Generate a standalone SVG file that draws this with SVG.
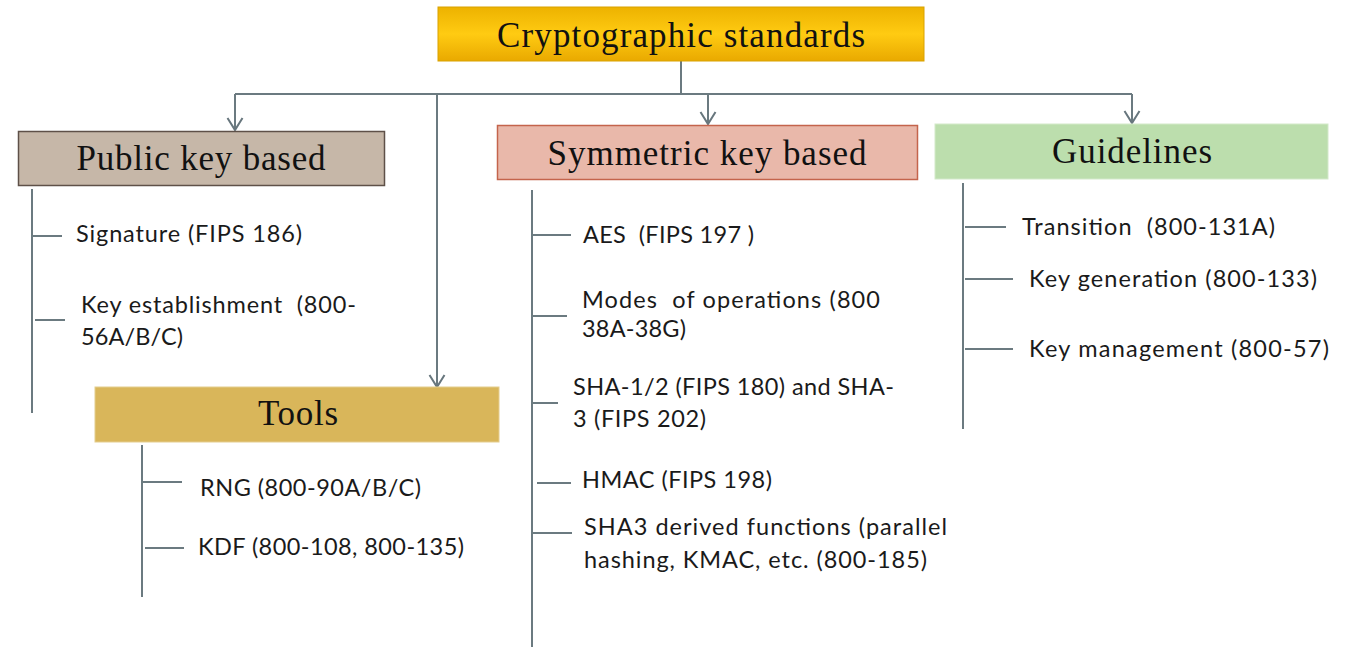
<svg xmlns="http://www.w3.org/2000/svg" width="1353" height="647" viewBox="0 0 1353 647">
<defs>
<linearGradient id="gold" x1="0" y1="0" x2="0" y2="1">
<stop offset="0" stop-color="#EDB200"/>
<stop offset="0.5" stop-color="#FFCB12"/>
<stop offset="1" stop-color="#E9A900"/>
</linearGradient>
<marker id="arr" markerUnits="userSpaceOnUse" markerWidth="16" markerHeight="18" viewBox="0 0 16 18" refX="13" refY="8.5" orient="auto">
<path d="M1,1 L13,8.5 L1,16" fill="none" stroke="#67767D" stroke-width="2"/>
</marker>
<style>
.ln{stroke:#6B7A80;stroke-width:2;fill:none}
.hd{font-family:"Liberation Serif","Times New Roman",serif;font-size:35px;fill:#111;text-anchor:middle}
.tx{font-family:Lato,"Liberation Sans",Arial,sans-serif;font-size:23.5px;fill:#1a1a1a;white-space:pre}
</style>
</defs>
<rect width="1353" height="647" fill="#ffffff"/>

<g id="connectors">
<path class="ln" d="M681,61 V94"/>
<path class="ln" d="M235,94 H1132"/>
<path class="ln" d="M235,94 V130" marker-end="url(#arr)"/>
<path class="ln" d="M437,94 V387" marker-end="url(#arr)"/>
<path class="ln" d="M708,94 V124" marker-end="url(#arr)"/>
<path class="ln" d="M1132,94 V123" marker-end="url(#arr)"/>
<path class="ln" d="M32,189 V413"/>
<path class="ln" d="M32,236 H62"/>
<path class="ln" d="M35,320 H65"/>
<path class="ln" d="M142,445 V597"/>
<path class="ln" d="M143,482 H182"/>
<path class="ln" d="M145,548 H184"/>
<path class="ln" d="M532,190 V647"/>
<path class="ln" d="M532,235 H571"/>
<path class="ln" d="M532,316 H567"/>
<path class="ln" d="M532,403 H558"/>
<path class="ln" d="M537,483 H571"/>
<path class="ln" d="M532,533 H572"/>
<path class="ln" d="M963,183 V429"/>
<path class="ln" d="M965,227 H1006"/>
<path class="ln" d="M965,279 H1013"/>
<path class="ln" d="M965,349 H1013"/>
</g>

<g id="root">
<rect x="438" y="7" width="486" height="54" fill="url(#gold)" stroke="#D9A200" stroke-width="1"/>
<text class="hd" x="681" y="47" font-size="37" textLength="368">Cryptographic standards</text>
</g>

<g id="public-key">
<rect x="18.5" y="131.5" width="366" height="54" fill="#C6B7A8" stroke="#5E5048" stroke-width="1.5"/>
<text class="hd" x="201" y="170" textLength="249">Public key based</text>
</g>
<g id="public-key-items">
<text class="tx" x="76" y="242" textLength="226">Signature (FIPS 186)</text>
<text class="tx" x="81" y="313" textLength="275">Key establishment  (800-</text>
<text class="tx" x="81" y="345" textLength="102">56A/B/C)</text>
</g>

<g id="symmetric-key">
<rect x="497.5" y="125.5" width="420" height="54" fill="#E9B8AA" stroke="#C4644C" stroke-width="1.5"/>
<text class="hd" x="707" y="165" textLength="319">Symmetric key based</text>
</g>
<g id="symmetric-key-items">
<text class="tx" x="583" y="243" textLength="171">AES  (FIPS 197 )</text>
<text class="tx" x="582" y="308" textLength="298">Modes  of operations (800</text>
<text class="tx" x="582" y="337" textLength="104">38A-38G)</text>
<text class="tx" x="573" y="395" textLength="321">SHA-1/2 (FIPS 180) and SHA-</text>
<text class="tx" x="573" y="427" textLength="133">3 (FIPS 202)</text>
<text class="tx" x="582" y="488" textLength="190">HMAC (FIPS 198)</text>
<text class="tx" x="584" y="535" textLength="363">SHA3 derived functions (parallel</text>
<text class="tx" x="584" y="568" textLength="343">hashing, KMAC, etc. (800-185)</text>
</g>

<g id="guidelines">
<rect x="935" y="124" width="393" height="55" fill="#BCDEAD" stroke="#D3E9CA" stroke-width="1"/>
<text class="hd" x="1132" y="163" textLength="160">Guidelines</text>
</g>
<g id="guidelines-items">
<text class="tx" x="1022" y="235" textLength="253">Transition  (800-131A)</text>
<text class="tx" x="1029" y="287" textLength="288">Key generation (800-133)</text>
<text class="tx" x="1029" y="357" textLength="300">Key management (800-57)</text>
</g>

<g id="tools">
<rect x="95" y="387" width="404" height="55" fill="#D9B65A" stroke="#E4CD8E" stroke-width="1"/>
<text class="hd" x="298" y="425" textLength="80">Tools</text>
</g>
<g id="tools-items">
<text class="tx" x="200" y="496" textLength="221">RNG (800-90A/B/C)</text>
<text class="tx" x="198" y="555" textLength="266">KDF (800-108, 800-135)</text>
</g>
</svg>
